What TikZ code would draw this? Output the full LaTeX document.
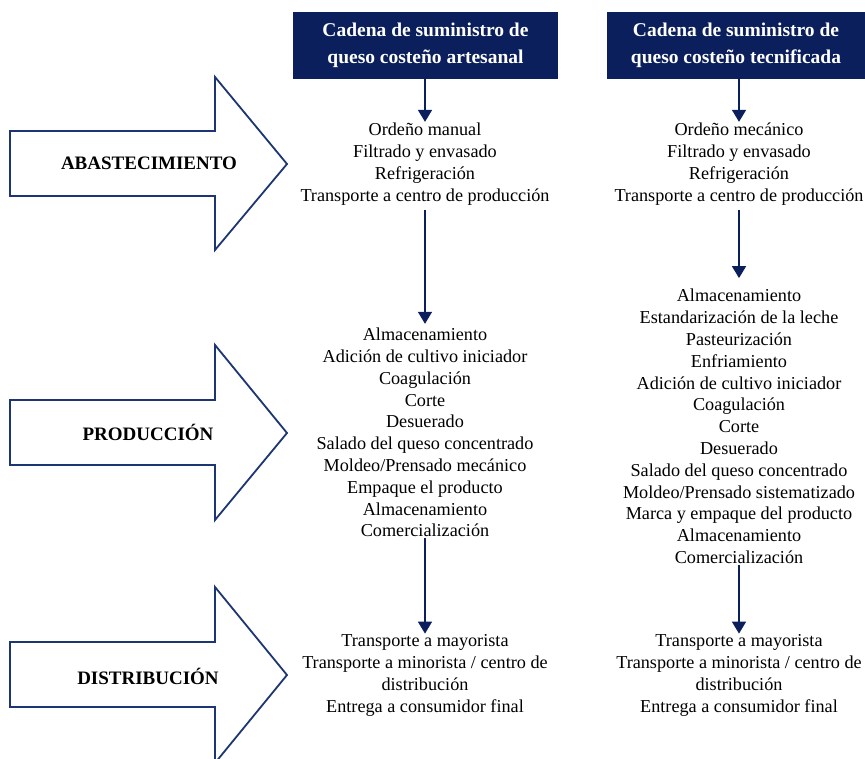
\documentclass[tikz,border=0pt]{standalone}
\usepackage{fontspec}
\setmainfont{Liberation Serif}
\usetikzlibrary{arrows.meta}
\definecolor{navy}{HTML}{0A1F5C}
\definecolor{outline}{HTML}{1C3672}
\begin{document}
\begin{tikzpicture}[x=1pt,y=-1pt,
  header/.style={fill=navy, text=white, font=\bfseries\fontsize{19.5}{27}\selectfont,
    align=center, minimum height=67pt, inner sep=0pt},
  steps/.style={align=center, font=\fontsize{18.2}{21.8}\selectfont, inner sep=1pt},
  stage/.style={font=\bfseries\fontsize{19}{20}\selectfont, inner sep=0pt},
  flow/.style={draw=navy, line width=1.6pt, -{Triangle[width=14pt,length=12pt]}},
  bigarrow/.style={draw=outline, line width=1.8pt, fill=white, line join=miter}
]
\useasboundingbox (0,0) rectangle (865,758);

% stage arrows on the left
\draw[bigarrow] (10,131) -- (215,131) -- (215,77) -- (287,164) -- (215,250) -- (215,196) -- (10,196) -- cycle;
\draw[bigarrow] (10,400) -- (215,400) -- (215,345) -- (287,433) -- (215,520) -- (215,465) -- (10,465) -- cycle;
\draw[bigarrow] (10,642) -- (215,642) -- (215,587) -- (287,675) -- (215,763) -- (215,707) -- (10,707) -- cycle;
\node[stage] (s1) at (149,163) {ABASTECIMIENTO};
\node[stage] (s2) at (148,432) {PRODUCCIÓN};
\node[stage] (s3) at (148,676) {DISTRIBUCIÓN};

% column headers
\node[header, minimum width=265pt] (h1) at (425.5,45.5) {Cadena de suministro de\\queso costeño artesanal};
\node[header, minimum width=258pt] (h2) at (736,45.5) {Cadena de suministro de\\queso costeño tecnificada};

% artisanal chain
\node[steps] (a1) at (425,164) {Ordeño manual\\Filtrado y envasado\\Refrigeración\\Transporte a centro de producción};
\node[steps] (p1) at (425,432.5) {Almacenamiento\\Adición de cultivo iniciador\\Coagulación\\Corte\\Desuerado\\Salado del queso concentrado\\Moldeo/Prensado mecánico\\Empaque el producto\\Almacenamiento\\Comercialización};
\node[steps] (d1) at (425,675.5) {Transporte a mayorista\\Transporte a minorista / centro de\\distribución\\Entrega a consumidor final};

% technified chain
\node[steps] (a2) at (739,164) {Ordeño mecánico\\Filtrado y envasado\\Refrigeración\\Transporte a centro de producción};
\node[steps] (p2) at (739,426.5) {Almacenamiento\\Estandarización de la leche\\Pasteurización\\Enfriamiento\\Adición de cultivo iniciador\\Coagulación\\Corte\\Desuerado\\Salado del queso concentrado\\Moldeo/Prensado sistematizado\\Marca y empaque del producto\\Almacenamiento\\Comercialización};
\node[steps] (d2) at (739,675.5) {Transporte a mayorista\\Transporte a minorista / centro de\\distribución\\Entrega a consumidor final};

% flow connectors
\draw[flow] (a1.north |- h1.south) -- (a1.north);
\draw[flow, shorten <=4pt, shorten >=3pt] (a1.south) -- (p1.north);
\draw[flow] (p1.south) -- (d1.north);
\draw[flow] (a2.north |- h2.south) -- (a2.north);
\draw[flow, shorten <=4pt, shorten >=10pt] (a2.south) -- (p2.north);
\draw[flow] (p2.south) -- (d2.north);
\end{tikzpicture}
\end{document}
